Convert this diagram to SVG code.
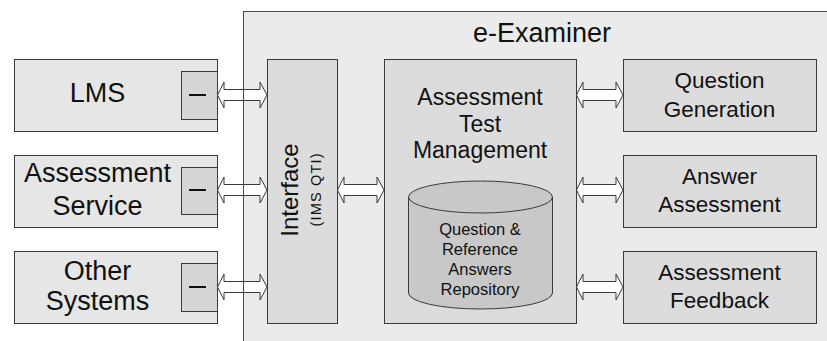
<svg xmlns="http://www.w3.org/2000/svg" width="827" height="341" viewBox="0 0 827 341">
  <style>
    text { font-family: "Liberation Sans", Arial, sans-serif; fill: #111; text-anchor: middle; }
    .ext { fill: #e6e6e6; stroke: #3a3a3a; stroke-width: 1; }
    .port { fill: #d6d6d6; stroke: #3a3a3a; stroke-width: 1; }
    .dash { stroke: #111; stroke-width: 2; }
    .mod { fill: #dcdcdc; stroke: #3a3a3a; stroke-width: 1; }
    .frame { fill: #ebebeb; }
    .frame-line { fill: none; stroke: #4a4a4a; stroke-width: 1; }
    .arrow { fill: #ffffff; stroke: #3a3a3a; stroke-width: 1; stroke-linejoin: miter; }
    .db { fill: #c8c8c8; stroke: #3a3a3a; stroke-width: 1; }
    .t27 { font-size: 27px; }
    .t23 { font-size: 23px; }
    .t22 { font-size: 22.5px; }
    .t17 { font-size: 16.5px; }
  </style>

  <!-- system container background -->
  <g id="e-examiner">
    <rect class="frame" x="243.5" y="11.5" width="600" height="350"/>
    <text x="542" y="42" style="font-size:27px">e-Examiner</text>
  </g>

  <!-- external systems -->
  <g id="lms">
    <rect class="ext" x="14.5" y="59.5" width="203" height="72"/>
    <rect class="port" x="181.5" y="71.5" width="36" height="48"/>
    <line class="dash" x1="189" y1="95" x2="206" y2="95"/>
    <text class="t27" x="97.5" y="102">LMS</text>
  </g>
  <g id="assessment-service">
    <rect class="ext" x="14.5" y="155.5" width="203" height="72"/>
    <rect class="port" x="181.5" y="167.5" width="36" height="47"/>
    <line class="dash" x1="189" y1="190" x2="206" y2="190"/>
    <text class="t27" x="97.5" y="182">Assessment</text>
    <text class="t27" x="97.5" y="215">Service</text>
  </g>
  <g id="other-systems">
    <rect class="ext" x="14.5" y="251.5" width="203" height="72"/>
    <rect class="port" x="181.5" y="263.5" width="36" height="48"/>
    <line class="dash" x1="189" y1="287" x2="206" y2="287"/>
    <text class="t27" x="97.5" y="280">Other</text>
    <text class="t27" x="97.5" y="310">Systems</text>
  </g>

  <!-- interface layer -->
  <g id="interface">
    <rect class="mod" x="267.5" y="59.5" width="70" height="264"/>
    <text transform="translate(298,190) rotate(-90)" style="font-size:24px">Interface</text>
    <text transform="translate(321,190) rotate(-90)" style="font-size:14.5px" textLength="73" lengthAdjust="spacing">(IMS QTI)</text>
  </g>

  <!-- core management with repository -->
  <g id="assessment-test-management">
    <rect class="mod" x="384.5" y="59.5" width="192" height="264"/>
    <text class="t23" x="480" y="105">Assessment</text>
    <text class="t23" x="480" y="132">Test</text>
    <text class="t23" x="480" y="158">Management</text>
  </g>
  <g id="repository">
    <path class="db" d="M408.5,197 L408.5,293 A72,16 0 0 0 552.5,293 L552.5,197 A72,16 0 0 0 408.5,197 Z"/>
    <path class="db" d="M408.5,197 A72,16 0 0 0 552.5,197"/>
    <text class="t17" x="480" y="235">Question &amp;</text>
    <text class="t17" x="480" y="255">Reference</text>
    <text class="t17" x="480" y="275">Answers</text>
    <text class="t17" x="480" y="295">Repository</text>
  </g>

  <!-- functional modules -->
  <g id="question-generation">
    <rect class="mod" x="623.5" y="59.5" width="193" height="72"/>
    <text class="t22" x="719.5" y="88">Question</text>
    <text class="t22" x="719.5" y="117">Generation</text>
  </g>
  <g id="answer-assessment">
    <rect class="mod" x="623.5" y="155.5" width="193" height="72"/>
    <text class="t22" x="719.5" y="184">Answer</text>
    <text class="t22" x="719.5" y="212">Assessment</text>
  </g>
  <g id="assessment-feedback">
    <rect class="mod" x="623.5" y="251.5" width="193" height="72"/>
    <text class="t22" x="719.5" y="280">Assessment</text>
    <text class="t22" x="719.5" y="308">Feedback</text>
  </g>

  <!-- double-headed block arrows -->
  <g id="connectors">
    <path class="arrow" d="M217.5,95 L224,82 L224,89.5 L260,89.5 L260,82 L267,95 L260,108 L260,100.5 L224,100.5 L224,108 Z"/>
    <path class="arrow" d="M217.5,190 L224,177 L224,184.5 L260,184.5 L260,177 L267,190 L260,203 L260,195.5 L224,195.5 L224,203 Z"/>
    <path class="arrow" d="M217.5,287 L224,274 L224,281.5 L260,281.5 L260,274 L267,287 L260,300 L260,292.5 L224,292.5 L224,300 Z"/>
    <path class="arrow" d="M337.5,190 L344,177 L344,184.5 L377,184.5 L377,177 L384,190 L377,203 L377,195.5 L344,195.5 L344,203 Z"/>
    <path class="arrow" d="M576.5,95 L583,82 L583,89.5 L616,89.5 L616,82 L623,95 L616,108 L616,100.5 L583,100.5 L583,108 Z"/>
    <path class="arrow" d="M576.5,190 L583,177 L583,184.5 L616,184.5 L616,177 L623,190 L616,203 L616,195.5 L583,195.5 L583,203 Z"/>
    <path class="arrow" d="M576.5,287 L583,274 L583,281.5 L616,281.5 L616,274 L623,287 L616,300 L616,292.5 L583,292.5 L583,300 Z"/>
  </g>

  <!-- container outline drawn over the arrows -->
  <g id="e-examiner-outline">
    <rect class="frame-line" x="243.5" y="11.5" width="600" height="350"/>
  </g>
</svg>
